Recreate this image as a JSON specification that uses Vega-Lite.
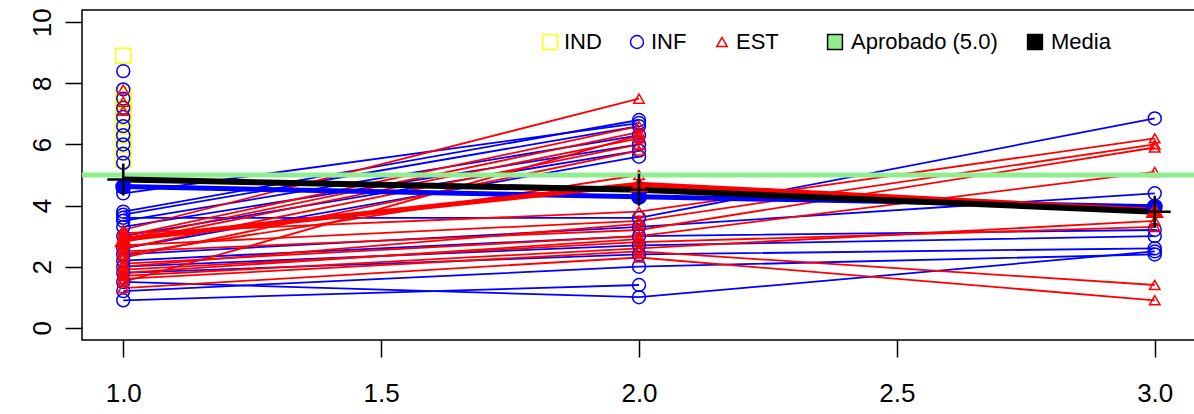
{
  "$schema": "https://vega.github.io/schema/vega-lite/v6.json",
  "width": 1114,
  "height": 330,
  "autosize": {"type": "none"},
  "padding": {"left": 82, "top": 10, "right": 0, "bottom": 74},
  "background": "white",
  "config": {
    "font": "Liberation Sans",
    "view": {"stroke": "black", "strokeWidth": 1.5},
    "axis": {"domain": false, "grid": false, "tickColor": "black", "tickSize": 17, "tickWidth": 1.5, "labelFont": "Liberation Sans", "labelFontSize": 26, "labelColor": "black", "labelOverlap": false, "labelFlush": false, "title": null}
  },
  "datasets": {
    "s": [
      {"id": "d1", "g": "IND", "x": 1, "v": 8.9},
      {"id": "d2", "g": "IND", "x": 1, "v": 7.6},
      {"id": "d3", "g": "IND", "x": 1, "v": 7.4},
      {"id": "d4", "g": "IND", "x": 1, "v": 7.2},
      {"id": "d5", "g": "IND", "x": 1, "v": 7.0},
      {"id": "d6", "g": "IND", "x": 1, "v": 6.7},
      {"id": "d7", "g": "IND", "x": 1, "v": 6.4},
      {"id": "d8", "g": "IND", "x": 1, "v": 6.1},
      {"id": "d9", "g": "IND", "x": 1, "v": 5.8},
      {"id": "d10", "g": "IND", "x": 1, "v": 5.5},
      {"id": "f1", "g": "INF", "x": 1, "v": 8.4},
      {"id": "f2", "g": "INF", "x": 1, "v": 7.8},
      {"id": "f3", "g": "INF", "x": 1, "v": 7.5},
      {"id": "f4", "g": "INF", "x": 1, "v": 7.2},
      {"id": "f5", "g": "INF", "x": 1, "v": 6.9},
      {"id": "f6", "g": "INF", "x": 1, "v": 6.6},
      {"id": "f7", "g": "INF", "x": 1, "v": 6.3},
      {"id": "f8", "g": "INF", "x": 1, "v": 6.0},
      {"id": "f9", "g": "INF", "x": 1, "v": 5.7},
      {"id": "f10", "g": "INF", "x": 1, "v": 5.4},
      {"id": "b1", "g": "INF", "x": 1, "v": 3.8},
      {"id": "b1", "g": "INF", "x": 2, "v": 6.8},
      {"id": "b2", "g": "INF", "x": 1, "v": 3.7},
      {"id": "b2", "g": "INF", "x": 2, "v": 6.6},
      {"id": "b3", "g": "INF", "x": 1, "v": 3.5},
      {"id": "b3", "g": "INF", "x": 2, "v": 6.3},
      {"id": "b4", "g": "INF", "x": 1, "v": 3.3},
      {"id": "b4", "g": "INF", "x": 2, "v": 6.0},
      {"id": "b5", "g": "INF", "x": 1, "v": 3.0},
      {"id": "b5", "g": "INF", "x": 2, "v": 5.8},
      {"id": "b6", "g": "INF", "x": 1, "v": 2.6},
      {"id": "b6", "g": "INF", "x": 2, "v": 5.6},
      {"id": "b7", "g": "INF", "x": 1, "v": 4.4},
      {"id": "b7", "g": "INF", "x": 2, "v": 6.7},
      {"id": "b8", "g": "INF", "x": 1, "v": 3.6},
      {"id": "b8", "g": "INF", "x": 2, "v": 3.6},
      {"id": "b8", "g": "INF", "x": 3, "v": 6.85},
      {"id": "b9", "g": "INF", "x": 1, "v": 2.4},
      {"id": "b9", "g": "INF", "x": 2, "v": 3.3},
      {"id": "b9", "g": "INF", "x": 3, "v": 4.4},
      {"id": "b10", "g": "INF", "x": 1, "v": 2.2},
      {"id": "b10", "g": "INF", "x": 2, "v": 3.0},
      {"id": "b10", "g": "INF", "x": 3, "v": 3.2},
      {"id": "b11", "g": "INF", "x": 1, "v": 2.0},
      {"id": "b11", "g": "INF", "x": 2, "v": 2.7},
      {"id": "b11", "g": "INF", "x": 3, "v": 3.0},
      {"id": "b12", "g": "INF", "x": 1, "v": 1.8},
      {"id": "b12", "g": "INF", "x": 2, "v": 2.4},
      {"id": "b12", "g": "INF", "x": 3, "v": 2.6},
      {"id": "b13", "g": "INF", "x": 1, "v": 1.2},
      {"id": "b13", "g": "INF", "x": 2, "v": 2.0},
      {"id": "b13", "g": "INF", "x": 3, "v": 2.4},
      {"id": "b14", "g": "INF", "x": 1, "v": 0.9},
      {"id": "b14", "g": "INF", "x": 2, "v": 1.4},
      {"id": "b15", "g": "INF", "x": 1, "v": 1.5},
      {"id": "b15", "g": "INF", "x": 2, "v": 1.0},
      {"id": "b15", "g": "INF", "x": 3, "v": 2.5},
      {"id": "e1", "g": "EST", "x": 1, "v": 7.8},
      {"id": "e2", "g": "EST", "x": 1, "v": 7.4},
      {"id": "e3", "g": "EST", "x": 1, "v": 7.1},
      {"id": "r1", "g": "EST", "x": 1, "v": 3.2},
      {"id": "r1", "g": "EST", "x": 2, "v": 7.5},
      {"id": "r2", "g": "EST", "x": 1, "v": 3.0},
      {"id": "r2", "g": "EST", "x": 2, "v": 6.6},
      {"id": "r3", "g": "EST", "x": 1, "v": 2.9},
      {"id": "r3", "g": "EST", "x": 2, "v": 6.4},
      {"id": "r4", "g": "EST", "x": 1, "v": 2.8},
      {"id": "r4", "g": "EST", "x": 2, "v": 6.2},
      {"id": "r5", "g": "EST", "x": 1, "v": 2.6},
      {"id": "r5", "g": "EST", "x": 2, "v": 6.0},
      {"id": "r6", "g": "EST", "x": 1, "v": 1.5},
      {"id": "r6", "g": "EST", "x": 2, "v": 6.3},
      {"id": "r7", "g": "EST", "x": 1, "v": 2.3},
      {"id": "r7", "g": "EST", "x": 2, "v": 5.8},
      {"id": "r8", "g": "EST", "x": 1, "v": 2.4},
      {"id": "r8", "g": "EST", "x": 2, "v": 5.0},
      {"id": "r9", "g": "EST", "x": 1, "v": 3.1},
      {"id": "r9", "g": "EST", "x": 2, "v": 3.8},
      {"id": "r9", "g": "EST", "x": 3, "v": 6.2},
      {"id": "r10", "g": "EST", "x": 1, "v": 2.7},
      {"id": "r10", "g": "EST", "x": 2, "v": 3.5},
      {"id": "r10", "g": "EST", "x": 3, "v": 6.0},
      {"id": "r11", "g": "EST", "x": 1, "v": 2.5},
      {"id": "r11", "g": "EST", "x": 2, "v": 3.2},
      {"id": "r11", "g": "EST", "x": 3, "v": 5.9},
      {"id": "r12", "g": "EST", "x": 1, "v": 2.1},
      {"id": "r12", "g": "EST", "x": 2, "v": 3.0},
      {"id": "r12", "g": "EST", "x": 3, "v": 5.1},
      {"id": "r13", "g": "EST", "x": 1, "v": 1.9},
      {"id": "r13", "g": "EST", "x": 2, "v": 2.8},
      {"id": "r13", "g": "EST", "x": 3, "v": 3.3},
      {"id": "r14", "g": "EST", "x": 1, "v": 1.7},
      {"id": "r14", "g": "EST", "x": 2, "v": 2.6},
      {"id": "r14", "g": "EST", "x": 3, "v": 3.5},
      {"id": "r15", "g": "EST", "x": 1, "v": 1.6},
      {"id": "r15", "g": "EST", "x": 2, "v": 2.5},
      {"id": "r15", "g": "EST", "x": 3, "v": 1.4},
      {"id": "r16", "g": "EST", "x": 1, "v": 1.3},
      {"id": "r16", "g": "EST", "x": 2, "v": 2.3},
      {"id": "r16", "g": "EST", "x": 3, "v": 0.9},
      {"id": "r17", "g": "EST", "x": 1, "v": 2.0},
      {"id": "r17", "g": "EST", "x": 2, "v": 3.4},
      {"id": "r18", "g": "EST", "x": 1, "v": 1.8},
      {"id": "r18", "g": "EST", "x": 2, "v": 2.9}
    ],
    "m": [
      {"g": "INF", "x": 1, "v": 4.62},
      {"g": "INF", "x": 2, "v": 4.29},
      {"g": "INF", "x": 3, "v": 3.96},
      {"g": "EST", "x": 1, "v": 2.9},
      {"g": "EST", "x": 2, "v": 4.7},
      {"g": "EST", "x": 3, "v": 3.85},
      {"g": "ALL", "x": 1, "v": 4.85},
      {"g": "ALL", "x": 2, "v": 4.52},
      {"g": "ALL", "x": 3, "v": 3.8}
    ],
    "lg": [{"k": "Aprobado (5.0)"}, {"k": "Media"}]
  },
  "layer": [
    {
      "data": {"name": "s"},
      "mark": {"type": "line", "strokeWidth": 1.8},
      "encoding": {
        "x": {"field": "x", "type": "quantitative", "scale": {"domain": [0.92, 3.08], "nice": false, "zero": false},
              "axis": {"values": [1, 1.5, 2, 2.5, 3], "format": ".1f", "labelPadding": 23, "labelBaseline": "top"}},
        "y": {"field": "v", "type": "quantitative", "scale": {"domain": [-0.4, 10.4], "nice": false, "zero": false},
              "axis": {"values": [0, 2, 4, 6, 8, 10], "labelAngle": -90, "labelAlign": "center", "labelBaseline": "bottom", "labelPadding": 10}},
        "color": {"field": "g", "type": "nominal", "scale": {"domain": ["IND", "INF", "EST"], "range": ["#FFFF00", "#0000FF", "#FF0000"]}},
        "detail": {"field": "id"}
      }
    },
    {
      "data": {"name": "s"},
      "mark": {"type": "point", "filled": false, "strokeWidth": 1.5, "opacity": 1},
      "encoding": {
        "x": {"field": "x", "type": "quantitative"},
        "y": {"field": "v", "type": "quantitative"},
        "color": {"field": "g", "type": "nominal",
                  "legend": {"orient": "none", "legendX": 457, "legendY": 21, "direction": "horizontal", "title": null, "labelFontSize": 22, "labelColor": "black", "symbolSize": 85, "symbolStrokeWidth": 1.5, "labelOffset": 3, "columnPadding": 24, "padding": 0, "labelLimit": 0}},
        "shape": {"field": "g", "type": "nominal", "scale": {"domain": ["IND", "INF", "EST"], "range": ["square", "circle", "triangle-up"]}},
        "size": {"field": "g", "type": "ordinal", "scale": {"domain": ["IND", "INF", "EST"], "range": [225, 110, 320]}, "legend": null}
      }
    },
    {
      "data": {"values": [{}]},
      "mark": {"type": "rule", "color": "#90EE90", "strokeWidth": 5},
      "encoding": {"y": {"datum": 5, "type": "quantitative"}}
    },
    {
      "data": {"name": "m"},
      "transform": [{"filter": "datum.g == 'INF'"}],
      "mark": {"type": "line", "strokeWidth": 5, "color": "#0000FF"},
      "encoding": {
        "x": {"field": "x", "type": "quantitative"},
        "y": {"field": "v", "type": "quantitative"}
      }
    },
    {
      "data": {"name": "m"},
      "transform": [{"filter": "datum.g == 'EST'"}],
      "mark": {"type": "line", "strokeWidth": 5, "color": "#FF0000"},
      "encoding": {
        "x": {"field": "x", "type": "quantitative"},
        "y": {"field": "v", "type": "quantitative"}
      }
    },
    {
      "data": {"name": "m"},
      "transform": [{"filter": "datum.g == 'ALL'"}],
      "mark": {"type": "line", "strokeWidth": 6, "color": "black"},
      "encoding": {
        "x": {"field": "x", "type": "quantitative"},
        "y": {"field": "v", "type": "quantitative"}
      }
    },
    {
      "data": {"name": "m"},
      "transform": [{"filter": "datum.g == 'INF'"}],
      "mark": {"type": "point", "shape": "circle", "filled": true, "opacity": 1, "size": 260, "color": "#0000FF"},
      "encoding": {
        "x": {"field": "x", "type": "quantitative"},
        "y": {"field": "v", "type": "quantitative"}
      }
    },
    {
      "data": {"name": "m"},
      "transform": [{"filter": "datum.g == 'EST'"}],
      "mark": {"type": "point", "shape": "triangle-up", "filled": true, "opacity": 1, "size": 340, "color": "#FF0000"},
      "encoding": {
        "x": {"field": "x", "type": "quantitative"},
        "y": {"field": "v", "type": "quantitative"}
      }
    },
    {
      "data": {"name": "m"},
      "transform": [{"filter": "datum.g == 'ALL'"}],
      "mark": {"type": "point", "shape": "M-1,0H1M0,-1V1", "size": 1024, "filled": false, "stroke": "black", "strokeWidth": 2.5, "opacity": 1},
      "encoding": {
        "x": {"field": "x", "type": "quantitative"},
        "y": {"field": "v", "type": "quantitative"}
      }
    },
    {
      "data": {"name": "lg"},
      "mark": {"type": "point", "shape": "square", "filled": true, "opacity": 0, "stroke": "black", "strokeWidth": 1.5},
      "encoding": {
        "fill": {"field": "k", "type": "nominal", "scale": {"domain": ["Aprobado (5.0)", "Media"], "range": ["#90EE90", "#000000"]},
                 "legend": {"orient": "none", "legendX": 742, "legendY": 21, "direction": "horizontal", "title": null, "labelFontSize": 22, "labelColor": "black", "symbolType": "square", "symbolSize": 220, "symbolStrokeColor": "black", "symbolStrokeWidth": 1.5, "symbolOpacity": 1, "labelOffset": 5, "columnPadding": 26, "padding": 0, "labelLimit": 0,
                            "encode": {"symbols": {"update": {"opacity": {"value": 1}, "stroke": {"value": "black"}}}}}}
      }
    }
  ]
}
